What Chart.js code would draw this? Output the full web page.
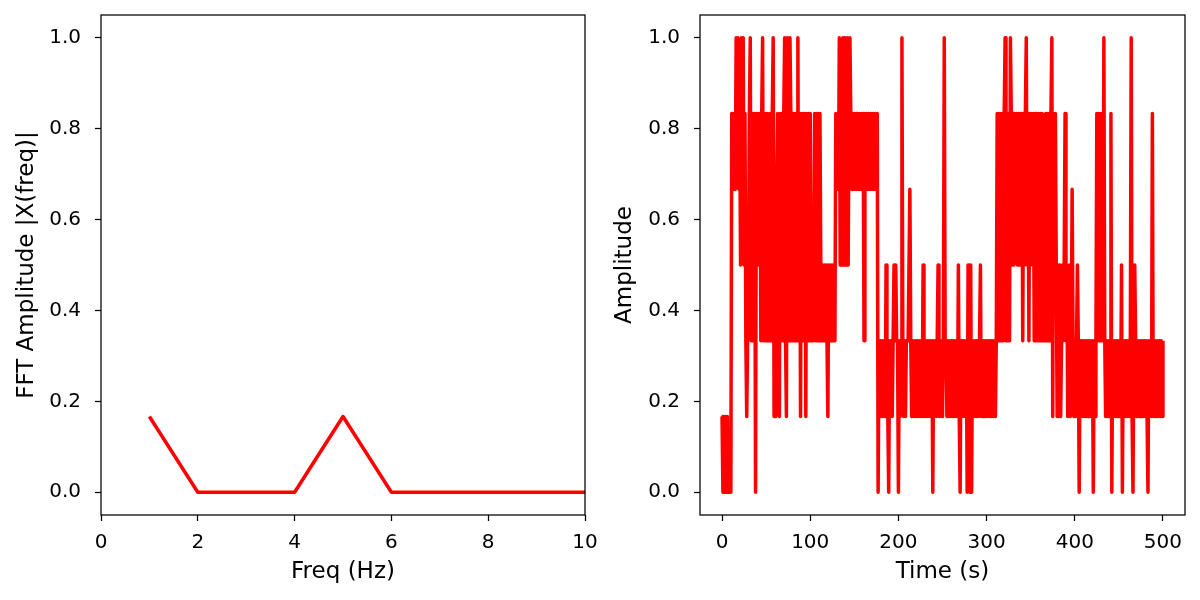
<!DOCTYPE html>
<html>
<head>
<meta charset="utf-8">
<script src="https://cdn.jsdelivr.net/npm/chart.js@4/dist/chart.umd.min.js"></script>
<style>
  body { margin: 0; background: #fff; }
  .box { position: absolute; top: 0; width: 600px; height: 600px; }
</style>
</head>
<body>
<div class="box" style="left:0"><canvas id="fftChart"></canvas></div>
<div class="box" style="left:600px"><canvas id="timeChart"></canvas></div>
<script>
// left panel: spectrum
const freqHz = [1, 2, 3, 4, 5, 6, 7, 8, 9, 10];
const fftAmp = [0.1667, 0, 0, 0, 0.1667, 0, 0, 0, 0, 0];
const freqTicks = [0, 2, 4, 6, 8, 10];

const ampSixths = [
  1,0,1,0,1,0,1,0,0,0, 0,5,5,4,5,4,6,5,6,4,
  5,3,6,5,6,3,5,2,1,2, 3,5,6,2,5,2,3,5,0,5,
  3,5,3,5,2,5,6,2,5,2, 5,2,5,4,2,5,2,5,6,1,
  4,1,4,5,2,1,5,2,5,2, 5,6,2,1,6,5,2,6,5,2,
  5,2,5,2,5,2,6,2,5,1, 5,2,5,2,5,1,5,2,5,2,
  5,2,3,2,3,5,2,5,2,5, 2,5,3,2,3,2,3,2,3,2,
  1,3,2,3,2,3,2,3,2,5, 4,5,4,6,3,5,3,6,3,6,
  3,3,6,3,5,6,5,4,5,4, 5,4,5,4,5,4,5,4,5,4,
  5,2,5,4,5,4,5,4,5,4, 5,4,5,4,5,4,5,0,2,1,
  2,1,2,1,2,1,3,2,1,0, 2,1,2,1,2,3,2,3,2,2,
  0,2,1,2,6,2,1,2,1,2, 2,2,2,4,2,1,2,1,2,1,
  2,1,2,1,2,1,2,1,3,1, 2,1,2,1,2,1,2,1,2,0,
  2,1,2,1,2,3,1,2,1,2, 1,2,6,2,2,1,2,1,2,1,
  2,1,2,1,2,1,2,1,3,1, 0,2,1,2,1,2,1,2,0,3,
  2,0,3,0,2,1,2,1,2,1, 2,1,2,3,1,2,1,2,1,2,
  1,2,1,2,1,2,1,2,1,2, 1,2,5,2,5,2,5,2,5,2,
  5,6,2,5,2,5,2,6,5,3, 5,3,5,4,5,3,5,3,5,3,
  5,2,5,3,5,6,3,5,2,5, 3,5,4,5,2,5,2,5,2,5,
  2,5,2,5,2,4,2,5,2,5, 2,5,2,5,6,1,5,3,5,3,
  1,3,1,3,1,2,3,2,3,5, 2,3,1,2,3,1,2,4,2,1,
  2,1,2,3,2,0,2,1,2,1, 2,1,2,1,2,1,2,1,2,1,
  2,0,2,1,2,5,2,5,2,5, 2,5,2,6,2,1,2,1,2,1,
  2,5,0,2,1,2,1,2,1,2, 1,2,1,3,0,2,1,2,1,2,
  1,2,1,2,6,1,0,2,3,2, 1,2,1,2,1,2,1,2,1,2,
  1,2,1,0,2,1,2,1,5,1, 2,1,2,1,2,1,2,1,2,1,2
];
const timeTicks = [0, 100, 200, 300, 400, 500];
const ampTicks = [0, 0.2, 0.4, 0.6, 0.8, 1.0];

const FONT = 'DejaVu Sans';

const frame = {
  id: 'frame',
  afterDraw(chart) {
    const a = chart.chartArea, c = chart.ctx;
    c.save();
    c.strokeStyle = '#000';
    c.lineWidth = 1.25;
    c.strokeRect(a.left, a.top, a.right - a.left, a.bottom - a.top);
    c.restore();
  }
};

function axis(min, max, ticks, title, fmt, isY, size, titlePad) {
  return {
    type: 'linear',
    min: min,
    max: max,
    afterBuildTicks: s => { s.ticks = ticks.map(v => ({ value: v })); },
    afterFit: s => {
      if (isY) s.width = size; else s.height = size;
      // labels may hang past the plot edges, like matplotlib
      s.paddingTop = s.paddingBottom = s.paddingLeft = s.paddingRight = 0;
    },
    grid: { display: true, drawOnChartArea: false, drawTicks: true, tickLength: 6, tickColor: '#000', tickWidth: 1.25 },
    border: { display: false },
    ticks: { color: '#000', padding: isY ? 14 : 10, maxRotation: 0, font: { family: FONT, size: 20 }, callback: fmt },
    title: { display: true, text: title, color: '#000', font: { family: FONT, size: 23 },
             padding: isY ? { top: titlePad, bottom: 0 } : { top: 0, bottom: titlePad } }
  };
}

function makeChart(id, points, xAxis, yAxis) {
  new Chart(document.getElementById(id), {
    type: 'line',
    data: { datasets: [{ data: points, borderColor: '#ff0000', borderWidth: 3.5, pointRadius: 0, tension: 0, borderJoinStyle: 'round' }] },
    options: {
      responsive: false,
      animation: false,
      devicePixelRatio: 1,
      layout: { padding: { top: 15, right: 15, left: 0, bottom: 0 } },
      plugins: { legend: { display: false }, tooltip: { enabled: false } },
      scales: { x: xAxis, y: yAxis }
    },
    plugins: [frame]
  });
}

['fftChart', 'timeChart'].forEach(id => {
  document.getElementById(id).width = 600;
  document.getElementById(id).height = 600;
});

makeChart('fftChart',
  freqHz.map((f, i) => ({ x: f, y: fftAmp[i] })),
  axis(0, 10, freqTicks, 'Freq (Hz)', v => String(v), false, 85, 14),
  axis(-0.05, 1.05, ampTicks, 'FFT Amplitude |X(freq)|', v => v.toFixed(1), true, 101, 13));

makeChart('timeChart',
  ampSixths.map((v, t) => ({ x: t, y: v / 6 })),
  axis(-25, 525, timeTicks, 'Time (s)', v => String(v), false, 85, 14),
  axis(-0.05, 1.05, ampTicks, 'Amplitude', v => v.toFixed(1), true, 100, 11));
</script>
</body>
</html>
